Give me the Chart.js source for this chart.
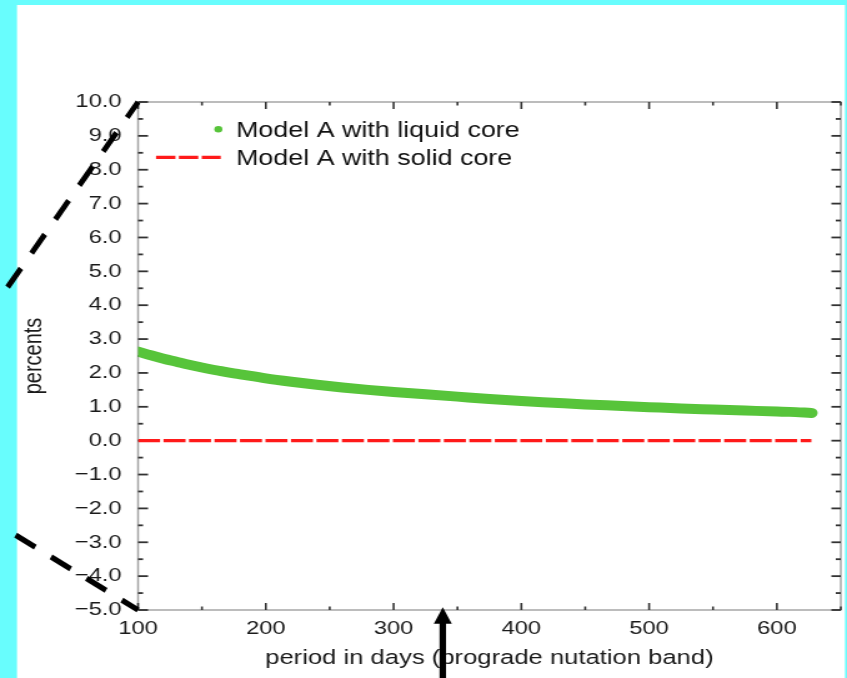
<!DOCTYPE html>
<html><head><meta charset="utf-8">
<script src="https://cdn.jsdelivr.net/npm/chart.js@4.4.1/dist/chart.umd.min.js"></script>
<style>
html,body{margin:0;padding:0;background:#68fdfd;overflow:hidden;width:847px;height:678px;}
#wrap{position:absolute;left:0;top:0;width:678px;height:678px;transform:scaleX(1.24926);transform-origin:0 0;}
</style></head><body>
<div id="wrap"><canvas id="c"></canvas></div>
<script>
// ---- data ----
const periodDays   = [100,110,120,130,140,150,165,180,200,220,240,260,280,300,325,350,375,400,425,450,475,500,525,550,575,600,610,627];
const liquidCorePct= [2.63,2.52,2.42,2.33,2.24,2.16,2.05,1.96,1.84,1.74,1.65,1.57,1.50,1.44,1.37,1.30,1.23,1.17,1.12,1.07,1.03,0.99,0.95,0.92,0.89,0.86,0.85,0.82];
const solidPeriods = [100,627];
const solidCorePct = [0,0];
const seriesLabels = ['Model A with liquid core','Model A with solid core'];
const xTickValues  = [100,200,300,400,500,600];
const xMinorValues = [150,250,350,450,550,650];
const yTickValues  = [-5,-4,-3,-2,-1,0,1,2,3,4,5,6,7,8,9,10];
const yMinorValues = [-4.5,-3.5,-2.5,-1.5,-0.5,0.5,1.5,2.5,3.5,4.5,5.5,6.5,7.5,8.5,9.5];
const xAxisTitle = 'period in days (prograde nutation band)';
const yAxisTitle = 'percents';
// annotation guides (data coordinates)
const guideLines = [[[100,10],[-3.6,4.45]],[[100,-5],[-7.5,-2.52]]];
const arrowMark = {x:338.5, from:-7.2, to:-4.92};

const SX = 847/678;
Chart.defaults.font.family = "'Liberation Sans', Arial, sans-serif";

function seg(ctx,x0,y0,x1,y1){ctx.beginPath();ctx.moveTo(x0,y0);ctx.lineTo(x1,y1);ctx.stroke();}

const decor = {
  id:'decor',
  beforeDraw(chart){
    const ctx=chart.ctx, W=chart.width, H=chart.height;
    ctx.save();
    ctx.fillStyle='#68fdfd'; ctx.fillRect(0,0,W,H);
    ctx.fillStyle='#ffffff'; ctx.fillRect(17/SX,5,(845-17)/SX,H-5);
    ctx.restore();
  },
  beforeDatasetsDraw(chart){
    const ctx=chart.ctx, a=chart.chartArea, xs=chart.scales.x, ys=chart.scales.y;
    ctx.save();
    ctx.strokeStyle='#a6a6a6'; ctx.lineWidth=1.5;
    ctx.strokeRect(a.left,a.top,a.right-a.left,a.bottom-a.top);
    ctx.strokeStyle='#333'; ctx.lineWidth=1.8;
    yTickValues.forEach(v=>{const p=ys.getPixelForValue(v);seg(ctx,a.left,p,a.left+8,p);seg(ctx,a.right,p,a.right-7.5,p);});
    yMinorValues.forEach(v=>{const p=ys.getPixelForValue(v);seg(ctx,a.left,p,a.left+4,p);seg(ctx,a.right,p,a.right-4,p);});
    ctx.lineWidth=1.6;
    xTickValues.forEach(v=>{const p=xs.getPixelForValue(v);seg(ctx,p,a.bottom,p,a.bottom-7);seg(ctx,p,a.top,p,a.top+7);});
    xMinorValues.forEach(v=>{const p=xs.getPixelForValue(v);seg(ctx,p,a.bottom,p,a.bottom-3.5);seg(ctx,p,a.top,p,a.top+3.5);});
    ctx.restore();
  },
  afterDraw(chart){
    const ctx=chart.ctx, a=chart.chartArea, xs=chart.scales.x, ys=chart.scales.y;
    const ds=chart.data.datasets;
    ctx.save();
    // legend
    ctx.font="21.5px 'Liberation Sans', Arial, sans-serif";
    ctx.fillStyle='#111'; ctx.textBaseline='alphabetic'; ctx.textAlign='left';
    ctx.fillText(ds[0].label,a.left+78.4,a.top+34.7);
    ctx.fillText(ds[1].label,a.left+78.4,a.top+63.3);
    ctx.fillStyle=ds[0].borderColor;
    ctx.beginPath();ctx.arc(a.left+64.3,a.top+27.3,3.2,0,Math.PI*2);ctx.fill();
    ctx.strokeStyle=ds[1].borderColor; ctx.lineWidth=3.3; ctx.setLineDash([15.5,2.8]);
    seg(ctx,a.left+14.4,a.top+55.3,a.left+66.2,a.top+55.3);
    ctx.setLineDash([]);
    // annotations drawn in displayed (unstretched) units
    ctx.scale(1/SX,1);
    const toD=(x,y)=>[xs.getPixelForValue(x)*SX, ys.getPixelForValue(y)];
    ctx.strokeStyle='#000'; ctx.fillStyle='#000'; ctx.lineWidth=5.5; ctx.lineCap='butt';
    ctx.setLineDash([23,18.5]); ctx.lineDashOffset=4;
    guideLines.forEach(([p0,p1])=>{const A=toD(p0[0],p0[1]),B=toD(p1[0],p1[1]);seg(ctx,A[0],A[1],B[0],B[1]);});
    ctx.setLineDash([]);
    const T=toD(arrowMark.x,arrowMark.to), Bt=toD(arrowMark.x,arrowMark.from);
    ctx.lineWidth=6.5; seg(ctx,T[0],Bt[1],T[0],T[1]+14);
    ctx.beginPath();ctx.moveTo(T[0],T[1]);ctx.lineTo(T[0]-9,T[1]+16.5);ctx.lineTo(T[0]+9,T[1]+16.5);ctx.closePath();ctx.fill();
    ctx.restore();
  }
};

new Chart(document.getElementById('c'),{
  type:'line',
  data:{datasets:[
    {label:seriesLabels[0],data:periodDays.map((p,i)=>({x:p,y:liquidCorePct[i]})),borderColor:'#57c43a',borderWidth:10,borderCapStyle:'round',borderJoinStyle:'round',pointRadius:0,cubicInterpolationMode:'monotone',fill:false},
    {label:seriesLabels[1],data:solidPeriods.map((p,i)=>({x:p,y:solidCorePct[i]})),borderColor:'#ff1a1a',borderWidth:3.3,borderDash:[17.6,2.8],pointRadius:0,fill:false}
  ]},
  options:{
    responsive:true,maintainAspectRatio:false,animation:false,
    layout:{padding:{top:102,right:1.7,left:0,bottom:0}},
    plugins:{legend:{display:false},tooltip:{enabled:false}},
    scales:{
      x:{type:'linear',position:'bottom',min:100,max:650,
        afterBuildTicks:s=>{s.ticks=xTickValues.map(v=>({value:v}));},
        afterFit:s=>{s.height=68;},
        grid:{display:false,drawTicks:false},border:{display:false},
        ticks:{padding:7,color:'#1a1a1a',font:{size:19},maxRotation:0,autoSkip:false,callback:v=>String(v)},
        title:{display:true,text:xAxisTitle,color:'#1a1a1a',font:{size:20.5},padding:{top:0,bottom:7}}
      },
      y:{type:'linear',min:-5,max:10,
        afterBuildTicks:s=>{s.ticks=yTickValues.map(v=>({value:v}));},
        afterFit:s=>{s.width=110.5;},
        grid:{display:false,drawTicks:false},border:{display:false},
        ticks:{padding:13.2,color:'#1a1a1a',font:{size:19},autoSkip:false,callback:v=>(v<0?'\u2212':'')+Math.abs(v).toFixed(1)},
        title:{display:true,text:yAxisTitle,color:'#1a1a1a',font:{size:20},padding:{top:15,bottom:0}}
      }
    }
  },
  plugins:[decor]
});
</script>
</body></html>
